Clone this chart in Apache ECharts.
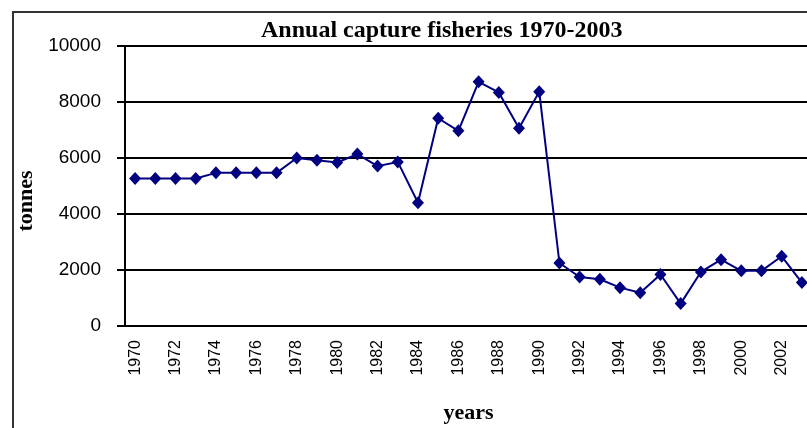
<!DOCTYPE html>
<html>
<head>
<meta charset="utf-8">
<script src="https://cdn.jsdelivr.net/npm/echarts@6/dist/echarts.min.js"></script>
<style>
  html, body { margin: 0; padding: 0; background: #fff; }
  #chart { width: 807px; height: 428px; }
</style>
</head>
<body>
<div id="chart"></div>
<script>
// years on the category axis
var years = [];
for (var y = 1970; y <= 2003; y++) years.push(String(y));

// tonnes per year
var catches = [
  5270, 5270, 5270, 5270, 5470, 5470, 5470, 5470, 6000, 5920,
  5840, 6140, 5710, 5860, 4400, 7420, 6970, 8720, 8340, 7060,
  8370, 2250, 1750, 1670, 1370, 1190, 1840, 800, 1930, 2370,
  1970, 1970, 2490, 1550
];

var chart = echarts.init(document.getElementById('chart'));

var option = {
  animation: false,
  backgroundColor: '#fff',
  title: {
    text: 'Annual capture fisheries 1970-2003',
    left: 256,
    top: 14,
    textStyle: {
      fontFamily: 'Liberation Serif',
      fontWeight: 'bold',
      fontSize: 24,
      color: '#000'
    }
  },
  graphic: [{
    type: 'rect',
    shape: { x: 13, y: 12, width: 820, height: 440 },
    style: { fill: 'none', stroke: '#333', lineWidth: 2 },
    silent: true
  }],
  grid: { left: 125, top: 46, right: -5, height: 280, outerBoundsMode: 'none' },
  xAxis: {
    type: 'category',
    data: years,
    boundaryGap: true,
    name: 'years',
    nameLocation: 'middle',
    nameGap: 76,
    nameTextStyle: {
      fontFamily: 'Liberation Serif',
      fontWeight: 'bold',
      fontSize: 22,
      color: '#000'
    },
    axisLine: { lineStyle: { color: '#000', width: 2 } },
    axisTick: { interval: 0, length: 7, lineStyle: { color: '#000', width: 2 } },
    axisLabel: {
      interval: 1,
      rotate: 90,
      margin: 14,
      fontFamily: 'Liberation Sans',
      fontSize: 16,
      color: '#000'
    },
    splitLine: { show: false }
  },
  yAxis: {
    type: 'value',
    min: 0,
    max: 10000,
    interval: 2000,
    name: 'tonnes',
    nameLocation: 'middle',
    nameGap: 78,
    nameRotate: 90,
    nameTextStyle: {
      fontFamily: 'Liberation Serif',
      fontWeight: 'bold',
      fontSize: 22,
      color: '#000',
      padding: [0, 30, 0, 0]
    },
    axisLine: { show: true, lineStyle: { color: '#000', width: 2 } },
    axisTick: { show: true, length: 8, lineStyle: { color: '#000', width: 2 } },
    axisLabel: {
      margin: 24,
      fontFamily: 'Liberation Sans',
      fontSize: 19,
      color: '#000',
      formatter: function (v) { return String(v); }
    },
    splitLine: { lineStyle: { color: '#000', width: 2 } }
  },
  series: [{
    type: 'line',
    data: catches,
    symbol: 'diamond',
    symbolSize: [12, 13],
    itemStyle: { color: '#000080' },
    lineStyle: { color: '#000080', width: 2 }
  }]
};

chart.setOption(option);
</script>
</body>
</html>
